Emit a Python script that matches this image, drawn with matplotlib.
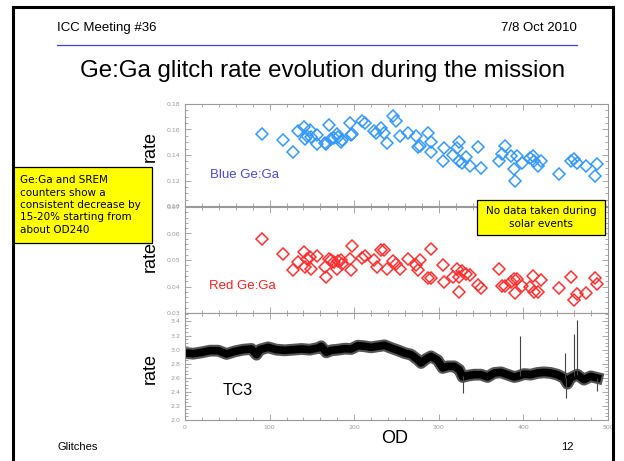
# Ge:Ga glitch rate evolution - slide recreation
import matplotlib
matplotlib.use('Agg')
import matplotlib.pyplot as plt
from matplotlib.lines import Line2D
from matplotlib.patches import Rectangle
from matplotlib.ticker import MultipleLocator

# Blue Ge:Ga glitch rate (OD, rate)
blue_od = [90.8, 115.5, 127.7, 133.6, 140.7, 141.9, 144.6, 147.8, 149.0, 156.0,
           156.4, 165.1, 167.0, 170.6, 172.9, 175.7, 179.2, 181.2, 183.9, 185.1,
           195.3, 196.1, 197.7, 209.1, 212.2, 223.6, 225.6, 231.9, 235.8, 238.6,
           245.6, 249.2, 254.7, 263.3, 273.5, 275.1, 277.5, 287.3, 290.8, 290.4,
           305.0, 305.8, 317.2, 321.1, 323.4, 323.8, 327.0, 332.1, 336.4, 345.8,
           349.8, 371.4, 374.5, 378.1, 385.1, 389.1, 390.2, 392.2, 398.1, 407.5,
           411.1, 412.7, 417.8, 420.5, 442.5, 456.7, 459.8, 463.0, 474.4, 485.0,
           487.3]
blue_rate = [0.1562, 0.1518, 0.1426, 0.1586, 0.1622, 0.1526, 0.1552, 0.1596, 0.1539, 0.1557,
             0.1484, 0.1492, 0.1489, 0.1635, 0.1528, 0.1536, 0.1567, 0.1541, 0.1505, 0.1520,
             0.1648, 0.1554, 0.1565, 0.1669, 0.1648, 0.1591, 0.1575, 0.1612, 0.1570, 0.1497,
             0.1709, 0.1664, 0.1552, 0.1575, 0.1546, 0.1460, 0.1471, 0.1573, 0.1505, 0.1424,
             0.1350, 0.1452, 0.1403, 0.1452, 0.1505, 0.1353, 0.1335, 0.1382, 0.1316, 0.1463,
             0.1298, 0.1350, 0.1408, 0.1468, 0.1395, 0.1293, 0.1199, 0.1390, 0.1340, 0.1374,
             0.1395, 0.1356, 0.1316, 0.1353, 0.1254, 0.1353, 0.1369, 0.1335, 0.1314, 0.1235,
             0.1327]

# Red Ge:Ga glitch rate (OD, rate)
red_od = [90.8, 115.5, 127.7, 133.6, 140.7, 141.9, 144.6, 147.8, 149.0, 156.0,
          165.1, 167.0, 170.6, 172.9, 175.7, 179.2, 181.2, 183.9, 185.1, 195.3,
          196.1, 197.7, 209.1, 212.2, 223.6, 226.8, 231.9, 235.8, 238.6, 245.6,
          249.2, 254.7, 263.3, 273.5, 275.1, 277.5, 287.3, 290.8, 290.4, 305.0,
          305.8, 317.2, 321.1, 323.4, 324.2, 327.0, 332.1, 336.4, 345.8, 349.8,
          371.4, 374.5, 378.1, 385.1, 389.1, 390.2, 392.2, 398.1, 407.5, 411.1,
          412.7, 417.8, 420.5, 442.5, 456.7, 459.8, 463.0, 474.4, 485.0, 487.3]
red_rate = [0.0580, 0.0521, 0.0463, 0.0492, 0.0530, 0.0474, 0.0505, 0.0511, 0.0467, 0.0514,
            0.0474, 0.0437, 0.0505, 0.0499, 0.0492, 0.0467, 0.0496, 0.0501, 0.0486, 0.0502,
            0.0461, 0.0552, 0.0508, 0.0514, 0.0499, 0.0474, 0.0536, 0.0539, 0.0466, 0.0496,
            0.0486, 0.0467, 0.0502, 0.0480, 0.0461, 0.0499, 0.0433, 0.0433, 0.0540, 0.0480,
            0.0417, 0.0436, 0.0467, 0.0436, 0.0380, 0.0458, 0.0448, 0.0442, 0.0404, 0.0394,
            0.0465, 0.0401, 0.0401, 0.0417, 0.0430, 0.0377, 0.0430, 0.0401, 0.0398, 0.0441,
            0.0379, 0.0379, 0.0426, 0.0396, 0.0436, 0.0348, 0.0373, 0.0375, 0.0432, 0.0411]

# TC3 rate (read along the centre of the noisy band)
tc3_od = [0.0, 9.8, 19.7, 29.5, 39.3, 49.1, 59.0, 68.8, 78.6, 84.5,
          88.4, 98.3, 108.1, 117.9, 127.7, 137.6, 147.4, 157.2, 161.1, 167.0,
          172.9, 180.8, 188.6, 196.5, 204.4, 212.2, 220.1, 227.9, 235.8, 243.7,
          251.5, 259.4, 267.2, 275.1, 279.0, 284.9, 290.8, 298.7, 304.6, 310.5,
          318.3, 324.2, 328.2, 334.1, 341.9, 349.8, 357.6, 365.5, 373.4, 381.2,
          389.1, 393.0, 400.9, 408.7, 416.6, 424.4, 432.3, 440.2, 448.0, 452.0,
          455.9, 463.7, 471.6, 479.5, 487.3]
tc3_rate = [2.952, 2.942, 2.961, 2.985, 2.985, 2.938, 2.975, 2.999, 3.009, 2.928,
            2.999, 3.032, 2.999, 2.990, 2.999, 3.009, 2.999, 3.023, 3.047, 2.961,
            2.990, 2.999, 3.013, 3.009, 3.056, 3.047, 3.032, 3.047, 3.061, 3.023,
            2.990, 2.952, 2.928, 2.857, 2.810, 2.867, 2.904, 2.848, 2.739, 2.762,
            2.762, 2.715, 2.611, 2.630, 2.644, 2.644, 2.611, 2.668, 2.677, 2.644,
            2.611, 2.620, 2.653, 2.644, 2.668, 2.677, 2.668, 2.644, 2.597, 2.516,
            2.597, 2.644, 2.573, 2.620, 2.597]
# narrow spikes / dips in TC3
spike_od = [328.2, 396.1, 448.8, 450.0, 459.8, 463.0, 487.3]
spike_lo = [2.384, 2.62, 2.60, 2.313, 2.62, 2.64, 2.407]
spike_hi = [2.62, 3.198, 2.952, 2.60, 3.226, 3.416, 2.60]

grey = '#9a9a9a'

fig = plt.figure(figsize=(6.24, 4.61), dpi=100)
fig.patch.set_facecolor('white')

def style_axis(ax, show_x):
    for s in ax.spines.values():
        s.set_color(grey)
        s.set_linewidth(0.8)
    ax.tick_params(which='both', direction='in', top=True, right=True,
                   colors=grey, labelsize=4.5, width=0.6)
    ax.tick_params(which='major', length=4)
    ax.tick_params(which='minor', length=2)
    ax.set_xlim(0, 500)
    ax.xaxis.set_major_locator(MultipleLocator(100))
    ax.xaxis.set_minor_locator(MultipleLocator(20))
    if not show_x:
        ax.tick_params(labelbottom=False)

L, W = 185 / 624, 423 / 624
ax1 = fig.add_axes([L, 1 - 206 / 461, W, 102 / 461])
ax2 = fig.add_axes([L, 1 - 313 / 461, W, 106 / 461])
ax3 = fig.add_axes([L, 1 - 420 / 461, W, 107 / 461])

ax1.plot(blue_od, blue_rate, 'D', mfc='none', mec='#3399ff', ms=6.3, mew=1.1)
ax1.set_ylim(0.10, 0.18)
ax1.yaxis.set_major_locator(MultipleLocator(0.02))
ax1.yaxis.set_minor_locator(MultipleLocator(0.005))
ax1.yaxis.set_major_formatter(matplotlib.ticker.FormatStrFormatter('%.2f'))
style_axis(ax1, False)
ax1.text(30, 0.124, 'Blue Ge:Ga', color='#4b4bd2', fontsize=9.5,
         family='Liberation Sans', va='center')

ax2.plot(red_od, red_rate, 'D', mfc='none', mec='#ff3030', ms=6.3, mew=1.1)
ax2.set_ylim(0.03, 0.07)
ax2.yaxis.set_major_locator(MultipleLocator(0.01))
ax2.yaxis.set_minor_locator(MultipleLocator(0.002))
ax2.yaxis.set_major_formatter(matplotlib.ticker.FormatStrFormatter('%.2f'))
style_axis(ax2, False)
ax2.text(28, 0.0403, 'Red Ge:Ga', color='#ff2020', fontsize=9.5,
         family='Liberation Sans', va='center')

# noisy band: soft grey halo under a black core
ax3.plot(tc3_od, tc3_rate, color='#555555', lw=8.5, solid_joinstyle='round')
ax3.plot(tc3_od, tc3_rate, color='black', lw=5.5, solid_joinstyle='round')
ax3.vlines(spike_od, spike_lo, spike_hi, color='#444444', lw=0.8)
ax3.set_ylim(2.0, 3.52)
ax3.yaxis.set_major_locator(MultipleLocator(0.2))
ax3.yaxis.set_minor_locator(MultipleLocator(0.05))
ax3.yaxis.set_major_formatter(matplotlib.ticker.FormatStrFormatter('%.1f'))
style_axis(ax3, True)
ax3.text(45, 2.42, 'TC3', color='black', fontsize=11.5,
         family='Liberation Sans', va='center')

for y in (146, 257, 368):
    fig.text(150 / 624, 1 - y / 461, 'rate', rotation=90, fontsize=13,
             family='Liberation Sans', ha='center', va='center')
fig.text(395 / 624, 1 - 438 / 461, 'OD', fontsize=13, family='Liberation Sans',
         ha='center', va='center')

# slide header / footer
fig.text(57 / 624, 1 - 28 / 461, 'ICC Meeting #36', fontsize=9.5,
         family='Liberation Sans', va='center')
fig.text(577 / 624, 1 - 28 / 461, '7/8 Oct 2010', fontsize=9.5,
         family='Liberation Sans', va='center', ha='right')
fig.add_artist(Line2D([57 / 624, 577 / 624], [1 - 44.5 / 461] * 2,
                      color='#4040e0', lw=0.9))
fig.text(322 / 624, 1 - 71 / 461, 'Ge:Ga glitch rate evolution during the mission',
         fontsize=17.3, family='Liberation Sans', ha='center', va='center')
fig.text(57 / 624, 1 - 447 / 461, 'Glitches', fontsize=8,
         family='Liberation Sans', va='center')
fig.text(567 / 624, 1 - 447 / 461, '12', fontsize=8,
         family='Liberation Sans', va='center', ha='center')

# yellow note boxes
fig.add_artist(Rectangle((13 / 624, 1 - 243 / 461), 139 / 624, 76 / 461,
                         facecolor='#ffff00', edgecolor='black', lw=0.9))
fig.text(20 / 624, 1 - 205 / 461,
         'Ge:Ga and SREM\ncounters show a\nconsistent decrease by\n15-20% starting from\nabout OD240',
         fontsize=7.5, family='DejaVu Sans', va='center', linespacing=1.3)
fig.add_artist(Rectangle((477 / 624, 1 - 235 / 461), 128 / 624, 35 / 461,
                         facecolor='#ffff00', edgecolor='black', lw=0.9))
fig.text(541 / 624, 1 - 217.5 / 461, 'No data taken during\nsolar events',
         fontsize=7.5, family='DejaVu Sans', ha='center', va='center',
         linespacing=1.3)

# slide border
for xs, ys in (([12.5 / 624] * 2, [0, 1 - 7.5 / 461]),
               ([613 / 624] * 2, [0, 1 - 7.5 / 461]),
               ([12.5 / 624, 613 / 624], [1 - 7.5 / 461] * 2)):
    fig.add_artist(Line2D(xs, ys, color='black', lw=2.2))

plt.savefig('out.png', dpi=100)
plt.close()
